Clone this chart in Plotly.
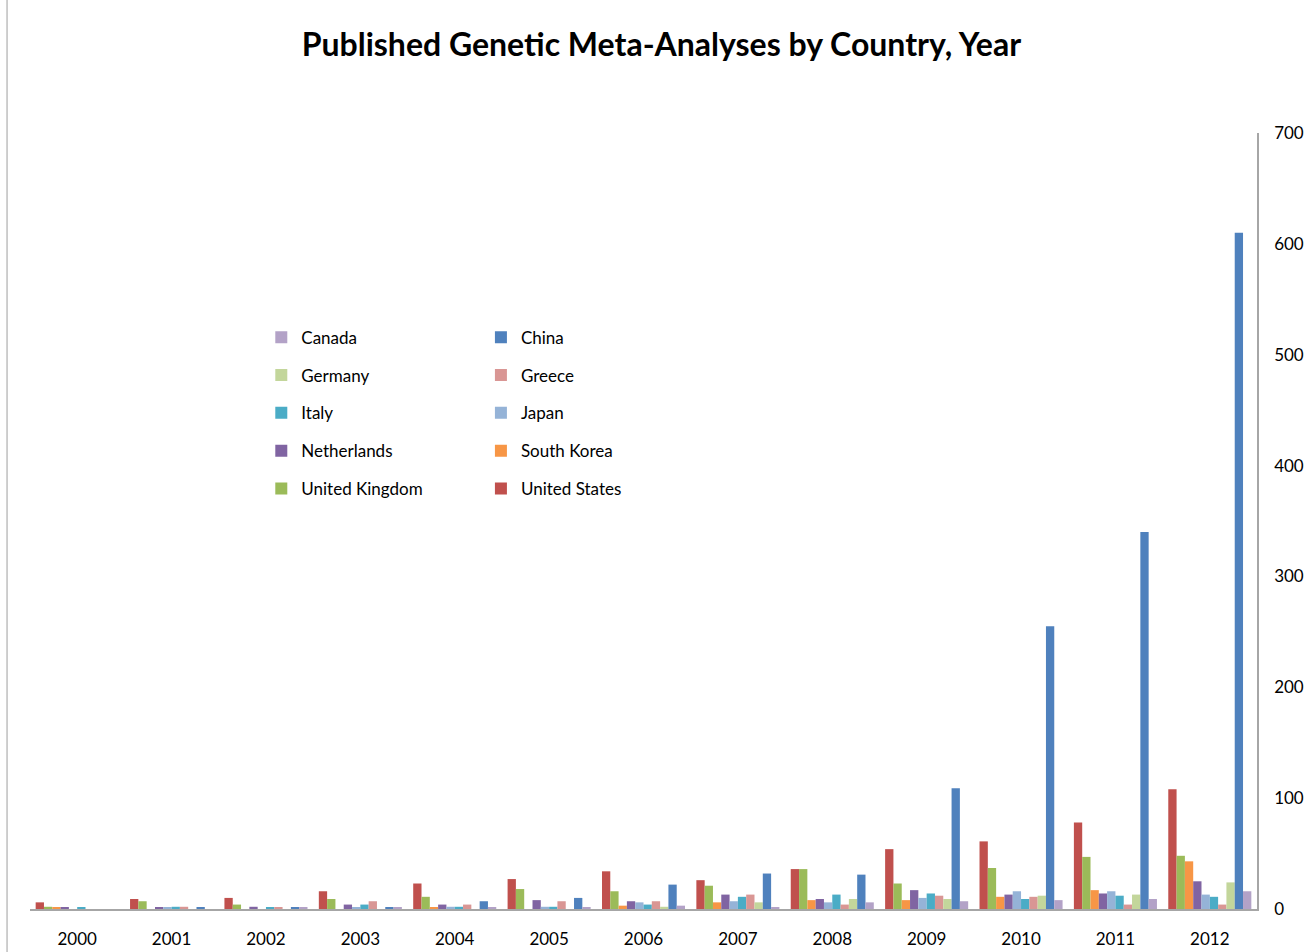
import plotly.graph_objects as go

years = [str(y) for y in range(2000, 2013)]

# values per country (order of bars within each year group)
united_states = [6, 9, 10, 16, 23, 27, 34, 26, 36, 54, 61, 78, 108]
united_kingdom = [2, 7, 4, 9, 11, 18, 16, 21, 36, 23, 37, 47, 48]
south_korea = [1, 0, 0, 0, 1, 0, 3, 6, 8, 8, 11, 17, 43]
netherlands = [1, 1, 2, 4, 4, 8, 7, 13, 9, 17, 13, 14, 25]
japan = [0, 1, 0, 1, 2, 2, 6, 7, 6, 10, 16, 16, 13]
italy = [1, 2, 1, 4, 2, 2, 4, 11, 13, 14, 9, 12, 11]
greece = [0, 2, 1, 7, 4, 7, 7, 13, 4, 12, 11, 4, 4]
germany = [0, 0, 0, 0, 0, 0, 2, 6, 9, 9, 12, 13, 24]
china = [0, 1, 1, 1, 7, 10, 22, 32, 31, 109, 255, 340, 610]
canada = [0, 0, 1, 1, 1, 1, 3, 1, 6, 7, 8, 9, 16]

series = [
    ("United States", united_states, "#C0504D", "legend2", 10),
    ("United Kingdom", united_kingdom, "#9BBB59", "legend", 9),
    ("South Korea", south_korea, "#F79646", "legend2", 8),
    ("Netherlands", netherlands, "#8064A2", "legend", 7),
    ("Japan", japan, "#95B3D7", "legend2", 6),
    ("Italy", italy, "#4BACC6", "legend", 5),
    ("Greece", greece, "#D99694", "legend2", 4),
    ("Germany", germany, "#C3D69B", "legend", 3),
    ("China", china, "#4F81BD", "legend2", 2),
    ("Canada", canada, "#B3A2C7", "legend", 1),
]

fig = go.Figure()
for name, vals, color, leg, rank in series:
    fig.add_trace(go.Bar(
        x=years, y=vals, name=name, marker_color=color, marker_line_width=0,
        legend=leg, legendgroup=name, legendrank=rank,
    ))

font_family = "Lato, 'Open Sans', sans-serif"
legend_common = dict(
    font=dict(family=font_family, size=17, color="#000"),
    bgcolor="rgba(0,0,0,0)", borderwidth=0,
    traceorder="grouped", tracegroupgap=12.7,
    xanchor="left", yanchor="top", y=0.7594,
)

fig.update_layout(
    width=1315, height=952,
    paper_bgcolor="white", plot_bgcolor="white",
    margin=dict(l=30, r=58, t=133, b=43),
    barmode="group", bargap=0.12, bargroupgap=0,
    title=dict(
        text="<b>Published Genetic Meta-Analyses by Country, Year</b>",
        x=0.503, xref="container", xanchor="center",
        y=1 - 45 / 952, yref="container", yanchor="middle",
        font=dict(family=font_family, size=32, color="#000"),
    ),
    legend=dict(x=0.1885, **legend_common),
    legend2=dict(x=0.3675, **legend_common),
    xaxis=dict(
        type="category", showgrid=False, showline=True, linecolor="#A6A6A6",
        linewidth=1.5, ticks="", ticklabelstandoff=14, automargin=False,
        tickfont=dict(family=font_family, size=17, color="#000"),
        fixedrange=True,
    ),
    yaxis=dict(
        side="right", range=[0, 700], dtick=100, showgrid=False,
        showline=True, linecolor="#A6A6A6", linewidth=1.5, ticks="",
        zeroline=False, ticklabelstandoff=12, automargin=False,
        tickfont=dict(family=font_family, size=17, color="#000"),
    ),
    shapes=[dict(
        type="line", xref="paper", yref="paper",
        x0=-0.0187, x1=-0.0187, y0=-0.06, y1=1.18,
        line=dict(color="#BFBFBF", width=1.5),
    )],
    font=dict(family=font_family),
)

fig.write_html(
    "out.html",
    config={"displayModeBar": False},
    post_script="document.body.style.margin='0';document.body.style.overflow='hidden';",
)
